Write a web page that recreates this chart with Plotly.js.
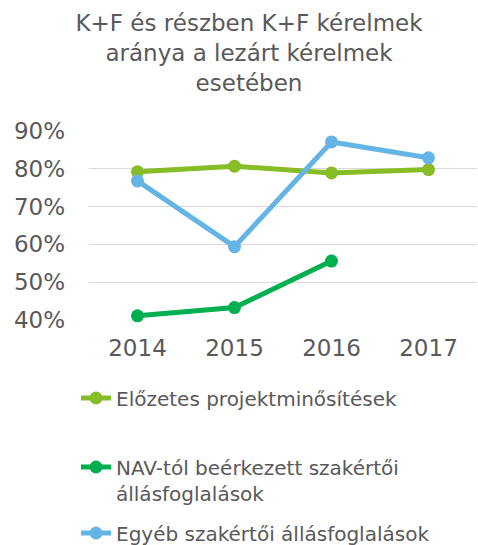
<!DOCTYPE html>
<html>
<head>
<meta charset="utf-8">
<script src="https://cdn.plot.ly/plotly-3.0.1.min.js"></script>
<style>html,body{margin:0;padding:0;background:#fff;}#chart{width:478px;height:545px;}</style>
</head>
<body>
<div id="chart"></div>
<script>
const years = ["2014", "2015", "2016", "2017"];
const seriesNames = ["Előzetes projektminősítések", "NAV-tól beérkezett szakértői<br>állásfoglalások", "Egyéb szakértői állásfoglalások"];
const elozetes = [0.792, 0.807, 0.789, 0.798];
const nav = [0.411, 0.433, 0.556, null];
const egyeb = [0.768, 0.594, 0.871, 0.829];
const yTicks = [0.4, 0.5, 0.6, 0.7, 0.8, 0.9];
const titleText = "K+F és részben K+F kérelmek<br>aránya a lezárt kérelmek<br>esetében";

const font = "DejaVu Sans, Verdana, sans-serif";
const txt = "#595959";
function tr(y, name, color, leg) {
  return {x: years, y: y, name: name, type: "scatter", mode: "lines+markers",
    line: {color: color, width: 5}, marker: {color: color, size: 13},
    cliponaxis: false, legend: leg, hoverinfo: "skip"};
}
const data = [
  tr(elozetes, seriesNames[0], "#86BC25", "legend"),
  tr(nav, seriesNames[1], "#00B050", "legend2"),
  tr(egyeb, seriesNames[2], "#64B5E6", "legend3")
];
const legBase = {xref: "container", yref: "container", xanchor: "left", yanchor: "middle",
  font: {family: font, size: 20, color: txt}, bgcolor: "rgba(0,0,0,0)", valign: "top", itemwidth: 30};
const layout = {
  width: 478, height: 545,
  margin: {l: 89, r: 1, t: 131, b: 225, autoexpand: false},
  paper_bgcolor: "#fff", plot_bgcolor: "#fff",
  font: {family: font, color: txt},
  title: {text: titleText, font: {family: font, size: 23, color: txt},
    x: 249/478, xanchor: "center", xref: "container", y: 1 - 31/545, yanchor: "top", yref: "container"},
  xaxis: {type: "category", range: [-0.5, 3.5], showgrid: false, zeroline: false, showline: false,
    tickfont: {size: 23, color: txt}, ticks: "", ticklabelstandoff: 12, tickangle: 0},
  yaxis: {range: [0.4, 0.9], tickvals: yTicks, tickformat: ".0%", showgrid: true, gridcolor: "#D9D9D9", gridwidth: 1,
    zeroline: false, showline: false, tickfont: {size: 23, color: txt}, ticks: "", ticklabelstandoff: 23},
  showlegend: true,
  legend: Object.assign({}, legBase, {x: 76/478, y: 1 - 398/545}),
  legend2: Object.assign({}, legBase, {x: 76/478, y: 1 - 480/545}),
  legend3: Object.assign({}, legBase, {x: 76/478, y: 1 - 533/545})
};
Plotly.newPlot("chart", data, layout, {displayModeBar: false, staticPlot: true});
</script>
</body>
</html>
